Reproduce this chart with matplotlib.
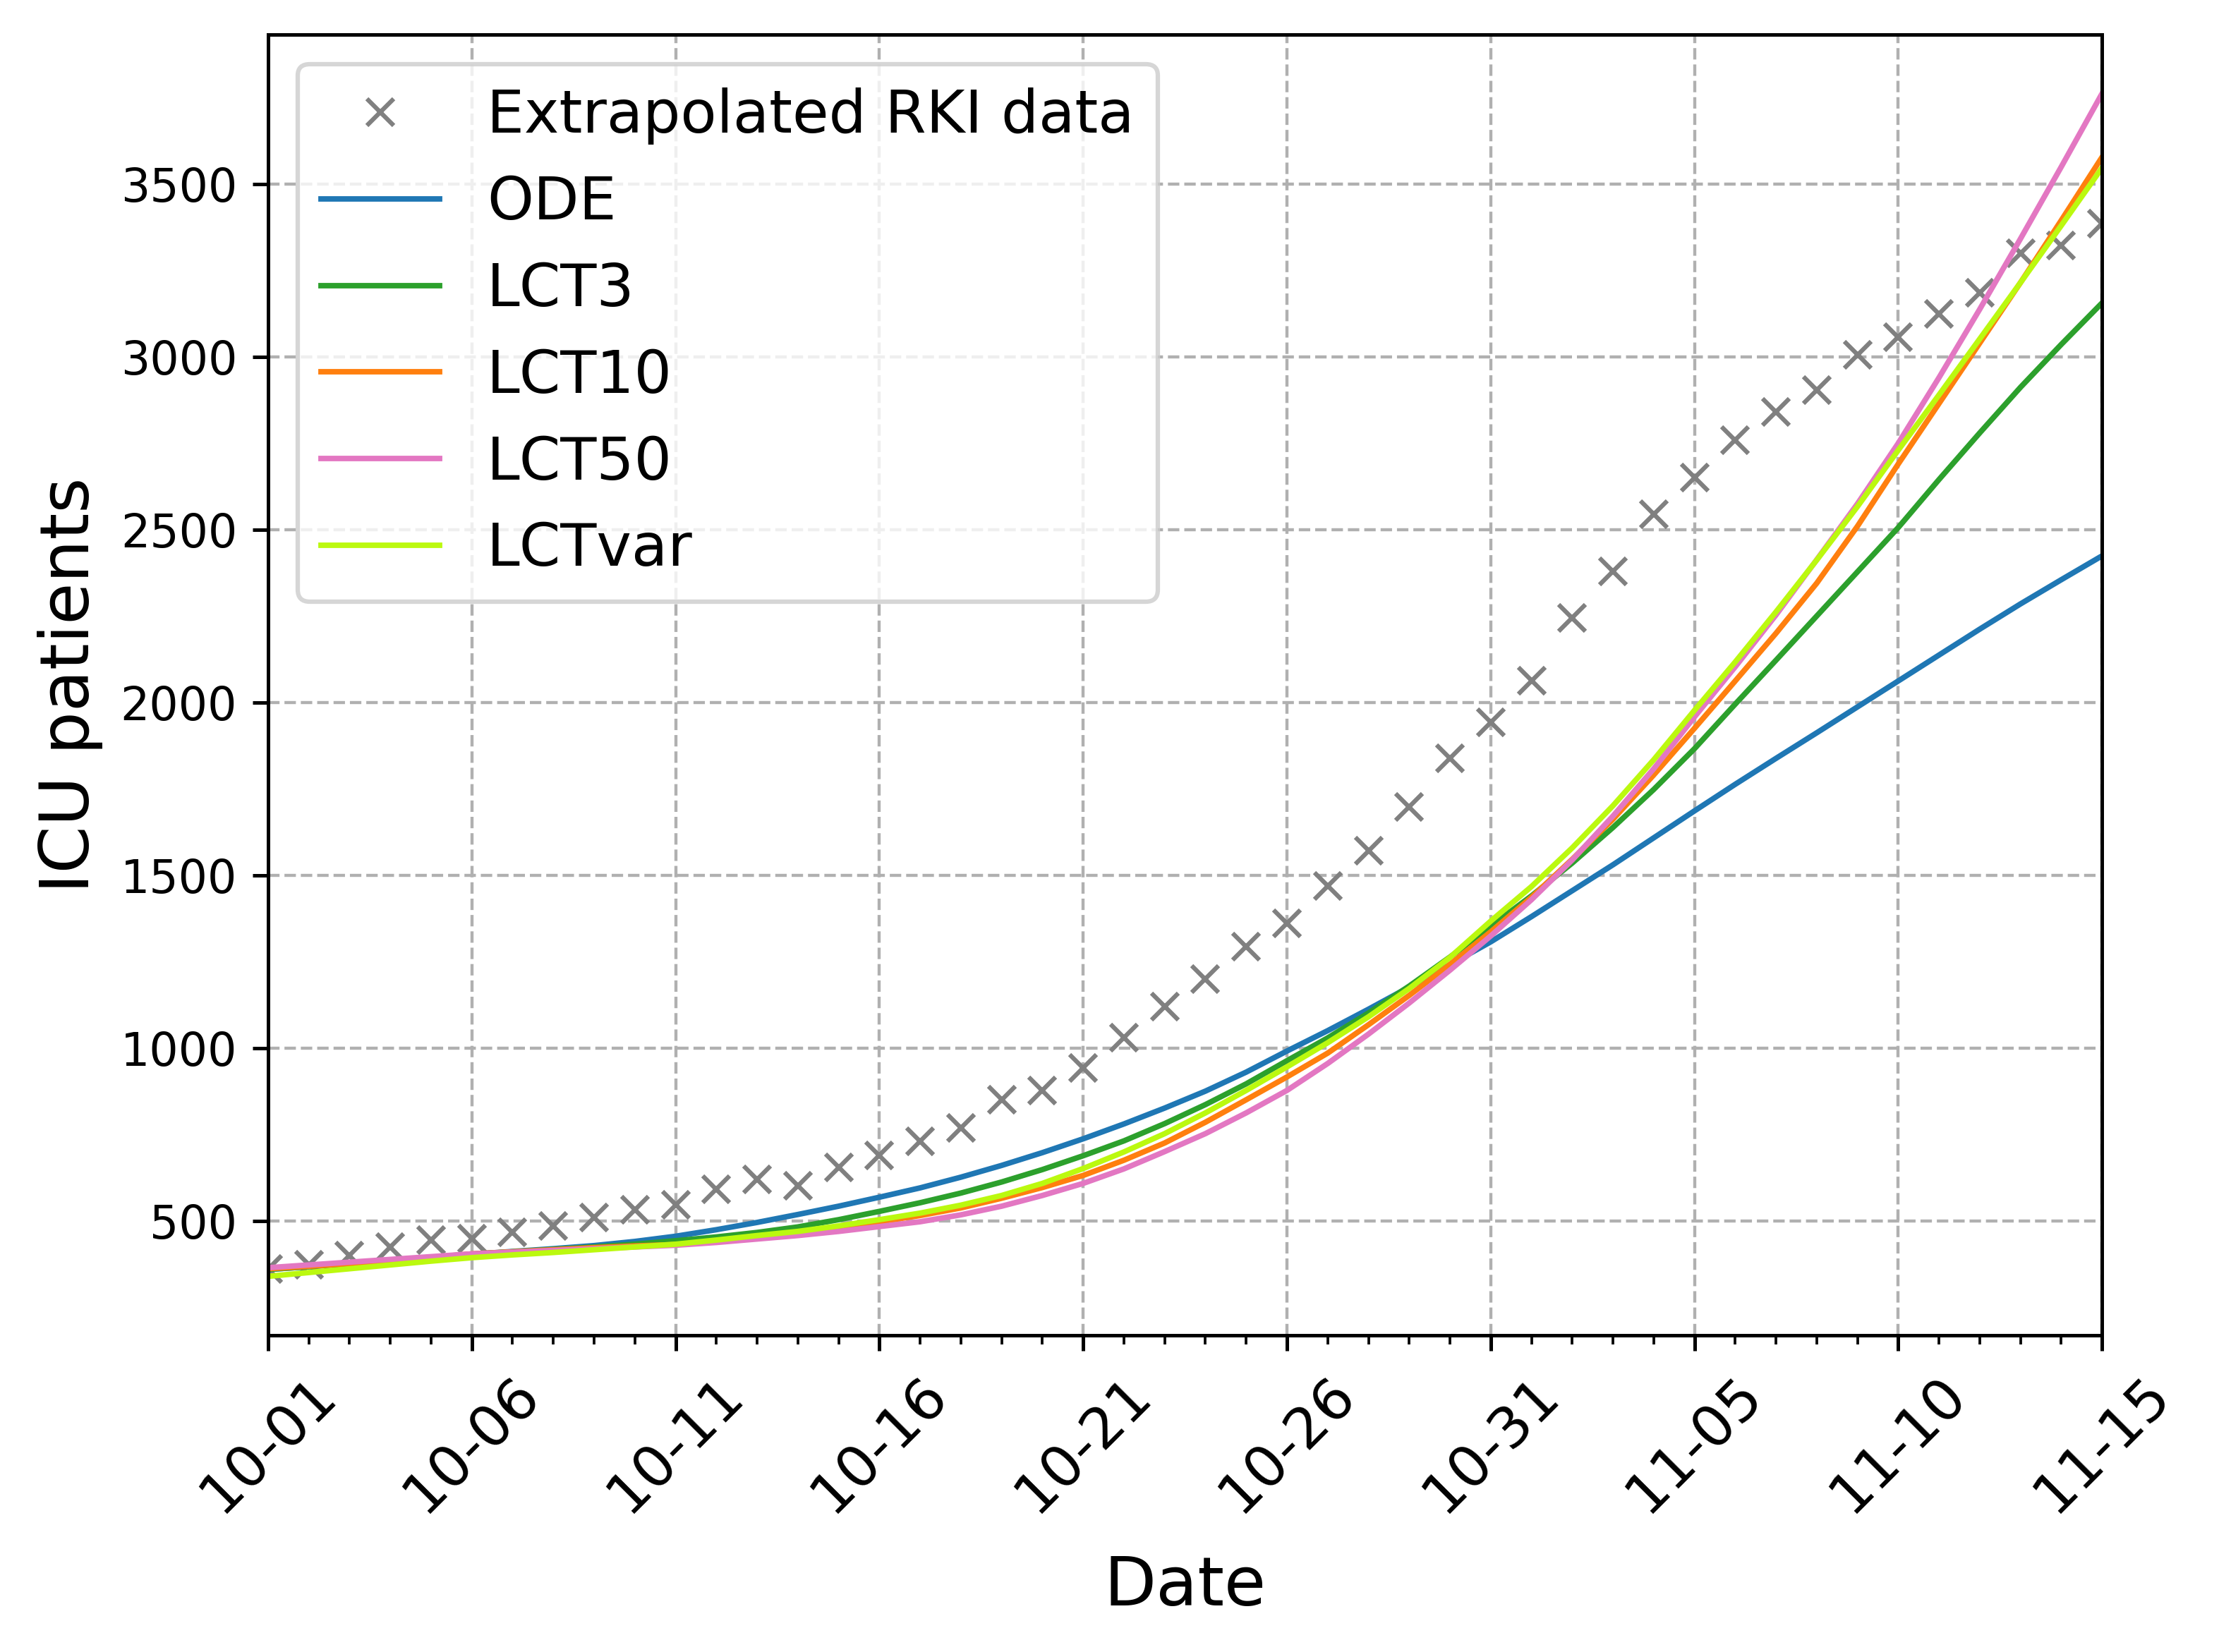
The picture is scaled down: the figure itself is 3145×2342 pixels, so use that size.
import numpy as np
import matplotlib
matplotlib.use("Agg")
import matplotlib.pyplot as plt
import matplotlib.dates as mdates

# dates 2020-10-01 .. 2020-11-15, one value per day
dates = np.arange(np.datetime64("2020-10-01"), np.datetime64("2020-11-16"), np.timedelta64(1, "D"))

rki_data = [360, 373, 400, 424, 444, 448, 467, 485, 509, 531,
            546, 590, 619, 602, 655, 689, 730, 769, 850, 877,
            943, 1030, 1120, 1200, 1293, 1360, 1469, 1570, 1698, 1839,
            1943, 2062, 2245, 2380, 2545, 2651, 2758, 2840, 2903, 3006,
            3057, 3124, 3186, 3299, 3323, 3386]

ode = [359, 367, 376, 385, 394, 403, 411, 419, 428, 440,
       455, 474, 495, 518, 542, 568, 595, 626, 660, 697,
       737, 780, 826, 875, 930, 991, 1050, 1112, 1176, 1241,
       1307, 1380, 1455, 1530, 1608, 1686, 1763, 1838, 1912, 1987,
       2062, 2137, 2212, 2285, 2355, 2424]

lct3 = [359, 367, 376, 385, 394, 403, 410, 417, 424, 432,
        442, 453, 466, 482, 503, 527, 552, 580, 612, 648,
        688, 731, 781, 836, 896, 963, 1029, 1101, 1179, 1263,
        1352, 1440, 1535, 1638, 1748, 1866, 1995, 2122, 2250, 2378,
        2506, 2645, 2780, 2912, 3036, 3156]

lct10 = [361, 368, 376, 385, 394, 404, 410, 416, 422, 427,
         431, 440, 452, 465, 480, 497, 515, 537, 565, 596,
         631, 675, 725, 785, 850, 916, 985, 1067, 1152, 1242,
         1336, 1436, 1546, 1662, 1790, 1925, 2062, 2200, 2345, 2510,
         2690, 2865, 3040, 3215, 3395, 3578]

lct50 = [364, 372, 380, 388, 396, 404, 409, 414, 419, 424,
         429, 437, 447, 457, 469, 483, 497, 517, 542, 573,
         608, 650, 700, 752, 812, 877, 955, 1040, 1130, 1225,
         1324, 1429, 1544, 1671, 1808, 1958, 2103, 2253, 2413, 2575,
         2750, 2940, 3138, 3342, 3550, 3762]

lctvar = [339, 350, 361, 372, 383, 393, 401, 408, 416, 424,
          432, 444, 457, 469, 485, 503, 522, 545, 573, 608,
          651, 699, 752, 812, 877, 945, 1015, 1090, 1172, 1262,
          1367, 1467, 1579, 1701, 1834, 1977, 2117, 2262, 2412, 2567,
          2730, 2890, 3052, 3215, 3380, 3547]

models = [("ODE", ode, "#1f77b4"),
          ("LCT3", lct3, "#2ca02c"),
          ("LCT10", lct10, "#ff7f0e"),
          ("LCT50", lct50, "#e377c2"),
          ("LCTvar", lctvar, "#bbf90f")]

fig = plt.figure(figsize=(3145 / 450, 2342 / 450), dpi=450)
ax = fig.add_axes([0.1208, 0.1916, 0.8265, 0.7876])

ax.plot(dates, rki_data, "x", color="grey", markersize=6.2, label="Extrapolated RKI data")
for name, values, col in models:
    ax.plot(dates, values, color=col, linewidth=1.25, label=name)

ax.set_xlim(dates[0], dates[-1])
ax.xaxis.set_minor_locator(mdates.DayLocator())
ax.xaxis.set_major_formatter(mdates.DateFormatter("%m-%d"))
ax.set_xticks(dates[::5])
ax.tick_params(axis="x", which="major", labelsize=13, rotation=45)
ax.tick_params(axis="y", labelsize=10.4)

ax.grid(True, linestyle="--", color="#b0b0b0", linewidth=0.7)
ax.set_xlabel("Date", fontsize=15.4, labelpad=7)
ax.set_ylabel("ICU patients", fontsize=15.4)
ax.legend(loc="upper left", fontsize=13.4)

fig.savefig("out.png", dpi=450)
